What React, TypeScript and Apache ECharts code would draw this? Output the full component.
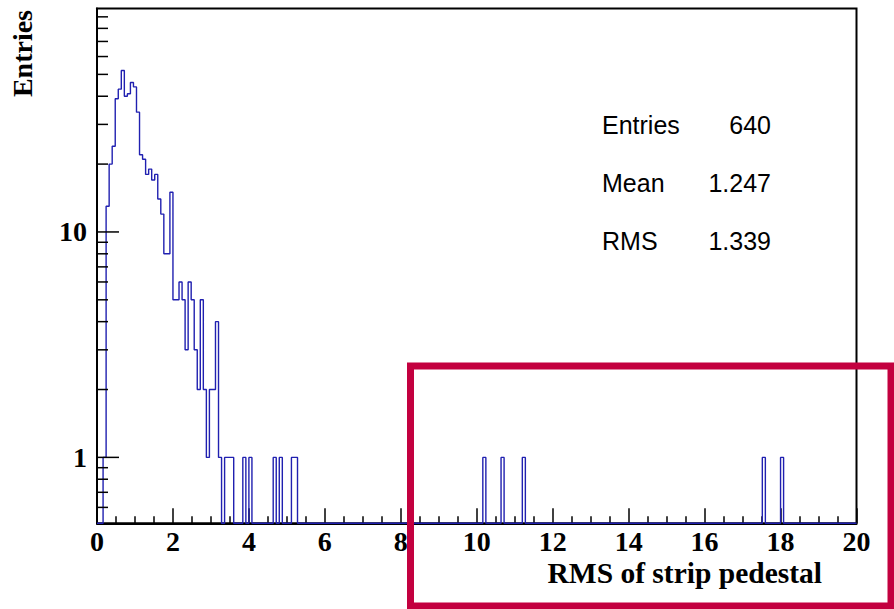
import React, { useEffect, useRef } from 'react';
import * as echarts from 'echarts';

// Histogram binning (x axis: RMS of strip pedestal)
const X_MIN = 0;
const X_MAX = 20;
const BIN_WIDTH = 0.08;

// Counts of the first 66 bins (0 .. 5.28)
const lowBinCounts = [
  0, 0, 1, 13, 20, 24, 39, 43, 52, 40,
  41, 46, 44, 34, 22, 21, 18, 19, 17, 18,
  14, 12, 8, 8, 15, 5, 5, 6, 5, 3,
  6, 5, 3, 2, 5, 2, 1, 2, 2, 4,
  1, 0, 1, 1, 1, 0, 0, 0, 1, 0,
  1, 0, 0, 0, 0, 0, 0, 0, 1, 0,
  1, 0, 0, 0, 1, 1,
];
// Isolated outlier bins (low edge) and their counts
const outlierBinEdges = [10.16, 10.64, 11.2, 17.52, 18.0];
const outlierCounts = [1, 1, 1, 1, 1];

// Y axis (log)
const Y_MIN = 0.51;
const Y_MAX = 98;
const yMajorTicks = [1, 10];
const yMinorTicks = [0.6, 0.7, 0.8, 0.9, 2, 3, 4, 5, 6, 7, 8, 9, 20, 30, 40, 50, 60, 70, 80, 90];

// Stats box
const statNames = ['Entries', 'Mean', 'RMS'];
const statValues = ['640', '1.247', '1.339'];

const xTitle = 'RMS of strip pedestal';
const yTitle = 'Entries';

const SERIF = '"Liberation Serif", "Times New Roman", serif';
const SANS = '"Liberation Sans", Arial, sans-serif';

export default function App() {
  const ref = useRef<HTMLDivElement>(null);

  useEffect(() => {
    if (!ref.current) return;
    const chart = echarts.init(ref.current, undefined, { renderer: 'svg' });

    const nBins = Math.round((X_MAX - X_MIN) / BIN_WIDTH);
    const counts: number[] = new Array(nBins).fill(0);
    lowBinCounts.forEach((c, i) => { counts[i] = c; });
    outlierBinEdges.forEach((e, k) => {
      counts[Math.round((e - X_MIN) / BIN_WIDTH)] += outlierCounts[k];
    });
    const histData: number[][] = [];
    for (let i = 0; i < nBins; i++) {
      histData.push([X_MIN + i * BIN_WIDTH, counts[i] > 0 ? counts[i] : Y_MIN]);
    }
    histData.push([X_MAX, counts[nBins - 1] > 0 ? counts[nBins - 1] : Y_MIN]);

    const tickData = [
      ...yMajorTicks.map((v) => [X_MIN, v, 1]),
      ...yMinorTicks.map((v) => [X_MIN, v, 0]),
    ];

    const statY = [124.5, 182.5, 240.5];
    const statGraphics: any[] = [];
    statNames.forEach((n, i) => {
      statGraphics.push({
        type: 'text', x: 602, y: statY[i], z: 50,
        style: { text: n, font: `25px ${SANS}`, fill: '#000', align: 'left', verticalAlign: 'middle', textAlign: 'left', textVerticalAlign: 'middle' },
      });
      statGraphics.push({
        type: 'text', x: 771, y: statY[i], z: 50,
        style: { text: statValues[i], font: `25px ${SANS}`, fill: '#000', align: 'right', verticalAlign: 'middle', textAlign: 'right', textVerticalAlign: 'middle' },
      });
    });

    chart.setOption({
      animation: false,
      backgroundColor: '#fff',
      grid: {
        left: 97, right: 37.5, top: 8.5, bottom: 85.7,
        show: true, borderColor: '#000', borderWidth: 2, backgroundColor: 'transparent',
      },
      xAxis: {
        type: 'value', min: X_MIN, max: X_MAX, interval: 2,
        axisLine: { show: true, onZero: false, lineStyle: { color: '#000', width: 2 } },
        axisTick: { show: true, inside: true, length: 15, lineStyle: { color: '#000', width: 1.5 } },
        minorTick: { show: true, splitNumber: 4, length: 7, lineStyle: { color: '#000', width: 1.5 } },
        splitLine: { show: false },
        axisLabel: { color: '#000', fontFamily: SERIF, fontWeight: 'bold', fontSize: 28, margin: 5, lineHeight: 26 },
      },
      yAxis: {
        type: 'log', logBase: 10, min: Y_MIN, max: Y_MAX,
        axisLine: { show: true, lineStyle: { color: '#000', width: 2 } },
        axisTick: { show: false },
        splitLine: { show: false },
        axisLabel: {
          color: '#000', fontFamily: SERIF, fontWeight: 'bold', fontSize: 28, margin: 10,
          showMinLabel: false, showMaxLabel: false,
          formatter: (v: number) => {
            const r = Math.round(v);
            return Math.abs(v - r) < 1e-6 && yMajorTicks.includes(r) ? String(r) : '';
          },
        },
      },
      series: [
        {
          type: 'line', step: 'end', data: histData, symbol: 'none', clip: true,
          lineStyle: { color: '#2020b0', width: 1.4 }, z: 3,
        },
        {
          type: 'custom', data: tickData, silent: true, z: 4, clip: false,
          renderItem: (params: any, api: any) => {
            const p = api.coord([api.value(0), api.value(1)]);
            const len = api.value(2) ? 22 : 11;
            return {
              type: 'line',
              shape: { x1: p[0], y1: p[1], x2: p[0] + len, y2: p[1] },
              style: { stroke: '#000', lineWidth: 1.5 },
            };
          },
        },
      ],
      graphic: [
        {
          type: 'text', x: 22, y: 10, rotation: Math.PI / 2, z: 50,
          style: { text: yTitle, font: `bold 28px ${SERIF}`, fill: '#000', align: 'right', verticalAlign: 'middle', textAlign: 'right', textVerticalAlign: 'middle' },
        },
        {
          type: 'text', x: 822, y: 573, z: 50,
          style: { text: xTitle, font: `bold 29.5px ${SERIF}`, fill: '#000', align: 'right', verticalAlign: 'middle', textAlign: 'right', textVerticalAlign: 'middle', lineHeight: 26 },
        },
        ...statGraphics,
        {
          type: 'rect', z: 100,
          shape: { x: 410.5, y: 366, width: 480.5, height: 240 },
          style: { fill: 'transparent', stroke: '#c3003f', lineWidth: 7 },
        },
      ],
    });

    return () => chart.dispose();
  }, []);

  return (
    <div
      ref={ref}
      style={{ position: 'absolute', left: 0, top: 0, width: 894, height: 609, background: '#fff' }}
    />
  );
}
